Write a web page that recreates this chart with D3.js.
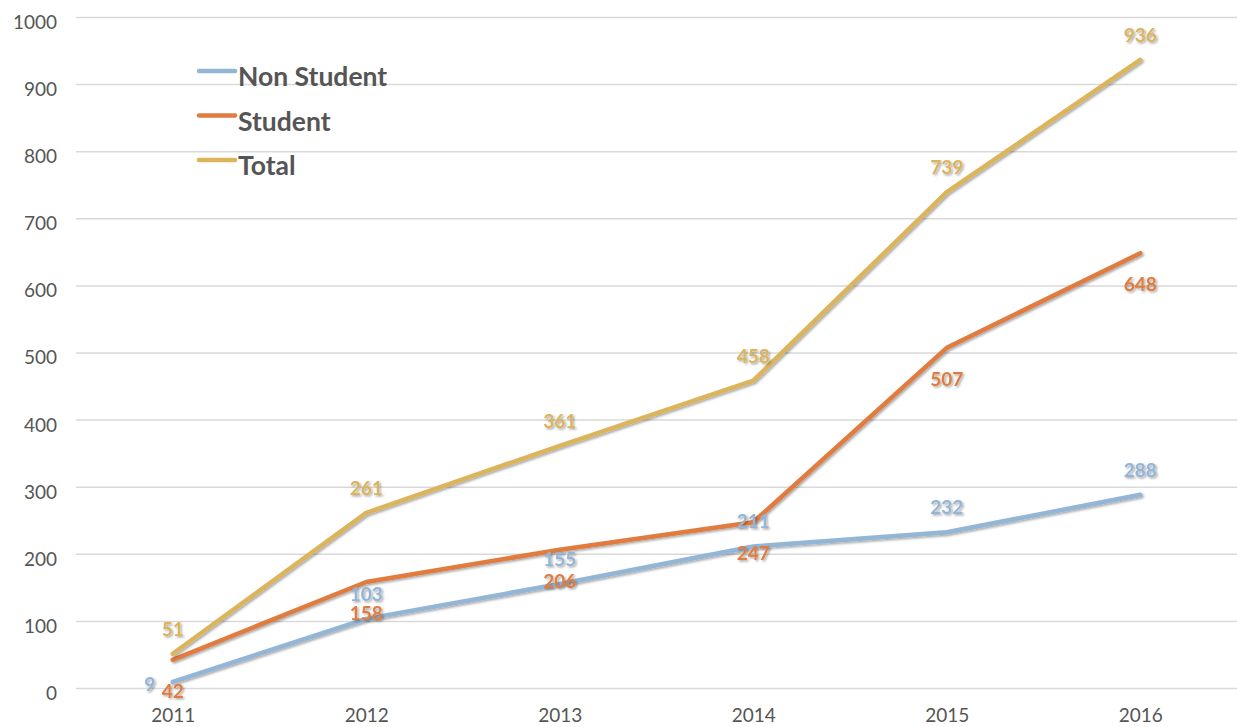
<!DOCTYPE html>
<html>
<head>
<meta charset="utf-8">
<script src="https://cdn.jsdelivr.net/npm/d3@7"></script>
<style>
  body { margin: 0; background: #fff; }
  svg { display: block; font-family: Lato, "Noto Sans", sans-serif; }
</style>
</head>
<body>
<div id="chart"></div>
<script>
// chart data
const years = ["2011", "2012", "2013", "2014", "2015", "2016"];
const nonStudent = [9, 103, 155, 211, 232, 288];
const student = [42, 158, 206, 247, 507, 648];
const total = [51, 261, 361, 458, 739, 936];
const yTicks = [0, 100, 200, 300, 400, 500, 600, 700, 800, 900, 1000];

const series = [
    {name: "Non Student", values: nonStudent, color: "#93b5d6", labelDy: -18},
    {name: "Student", values: student, color: "#e07c40", labelDy: 38},
    {name: "Total", values: total, color: "#dbb45c", labelDy: -18}
];

const width = 1237, height = 727;
const margin = {top: 17, right: 0, bottom: 39, left: 76};

const svg = d3.select("#chart").append("svg")
    .attr("width", width)
    .attr("height", height);

const defs = svg.append("defs");
defs.append("filter")
    .attr("id", "shadow")
    .attr("x", "-20%").attr("y", "-20%")
    .attr("width", "140%").attr("height", "140%")
    .append("feDropShadow")
    .attr("dx", 1.5).attr("dy", 1.5)
    .attr("stdDeviation", 1)
    .attr("flood-color", "#000")
    .attr("flood-opacity", 0.35);

const x = d3.scalePoint()
    .domain(years)
    .range([margin.left, width - margin.right])
    .padding(0.5);

const y = d3.scaleLinear()
    .domain([0, 1000])
    .range([height - margin.bottom, margin.top]);

// gridlines + y labels
const yAxis = d3.axisLeft(y)
    .tickValues(yTicks)
    .tickSize(-(width - margin.left - margin.right))
    .tickPadding(19)
    .tickFormat(d3.format("d"));

svg.append("g")
    .attr("class", "y axis")
    .attr("transform", "translate(" + margin.left + ",0)")
    .call(yAxis)
    .attr("font-family", null)
    .attr("font-size", null)
    .call(g => g.select(".domain").remove())
    .call(g => g.selectAll("line").attr("stroke", "#d9d9d9").attr("stroke-width", 1.5))
    .call(g => g.selectAll("text")
        .attr("fill", "#555")
        .attr("dy", "0.6em")
        .style("font-size", "19px"));

const xAxis = d3.axisBottom(x).tickSize(0).tickPadding(21);

svg.append("g")
    .attr("class", "x axis")
    .attr("transform", "translate(0," + (height - margin.bottom) + ")")
    .call(xAxis)
    .attr("font-family", null)
    .attr("font-size", null)
    .call(g => g.select(".domain").remove())
    .call(g => g.selectAll("text")
        .attr("fill", "#555")
        .style("font-size", "19px"));

const line = d3.line()
    .x((d, i) => x(years[i]))
    .y(d => y(d));

svg.append("g")
    .selectAll("path")
    .data(series)
    .join("path")
    .attr("d", s => line(s.values))
    .attr("fill", "none")
    .attr("stroke", s => s.color)
    .attr("stroke-width", 4.5)
    .attr("stroke-linecap", "round")
    .attr("stroke-linejoin", "round")
    .attr("filter", "url(#shadow)");

// data labels
series.forEach(s => {
    svg.append("g")
        .selectAll("text")
        .data(s.values)
        .join("text")
        .attr("x", (d, i) => {
            // first non student label sits left of the point
            if (s.name === "Non Student" && i === 0) return x(years[i]) - 23;
            return x(years[i]);
        })
        .attr("y", (d, i) => {
            if (s.name === "Non Student" && i === 0) return y(d) + 9;
            return y(d) + s.labelDy;
        })
        .attr("text-anchor", "middle")
        .attr("fill", s.color)
        .attr("filter", "url(#shadow)")
        .style("font-size", "19px")
        .style("font-weight", "bold")
        .text(d => d);
});

// legend
const legend = svg.append("g")
    .attr("transform", "translate(199,71)");

const item = legend.selectAll("g")
    .data(series)
    .join("g")
    .attr("transform", (d, i) => "translate(0," + i * 44.5 + ")");

item.append("line")
    .attr("x1", 0).attr("x2", 36)
    .attr("stroke", d => d.color)
    .attr("stroke-width", 4.5)
    .attr("stroke-linecap", "round");

item.append("text")
    .attr("x", 39)
    .attr("y", 15)
    .attr("fill", "#555")
    .style("font-size", "26.5px")
    .style("font-weight", "bold")
    .text(d => d.name);
</script>
</body>
</html>
